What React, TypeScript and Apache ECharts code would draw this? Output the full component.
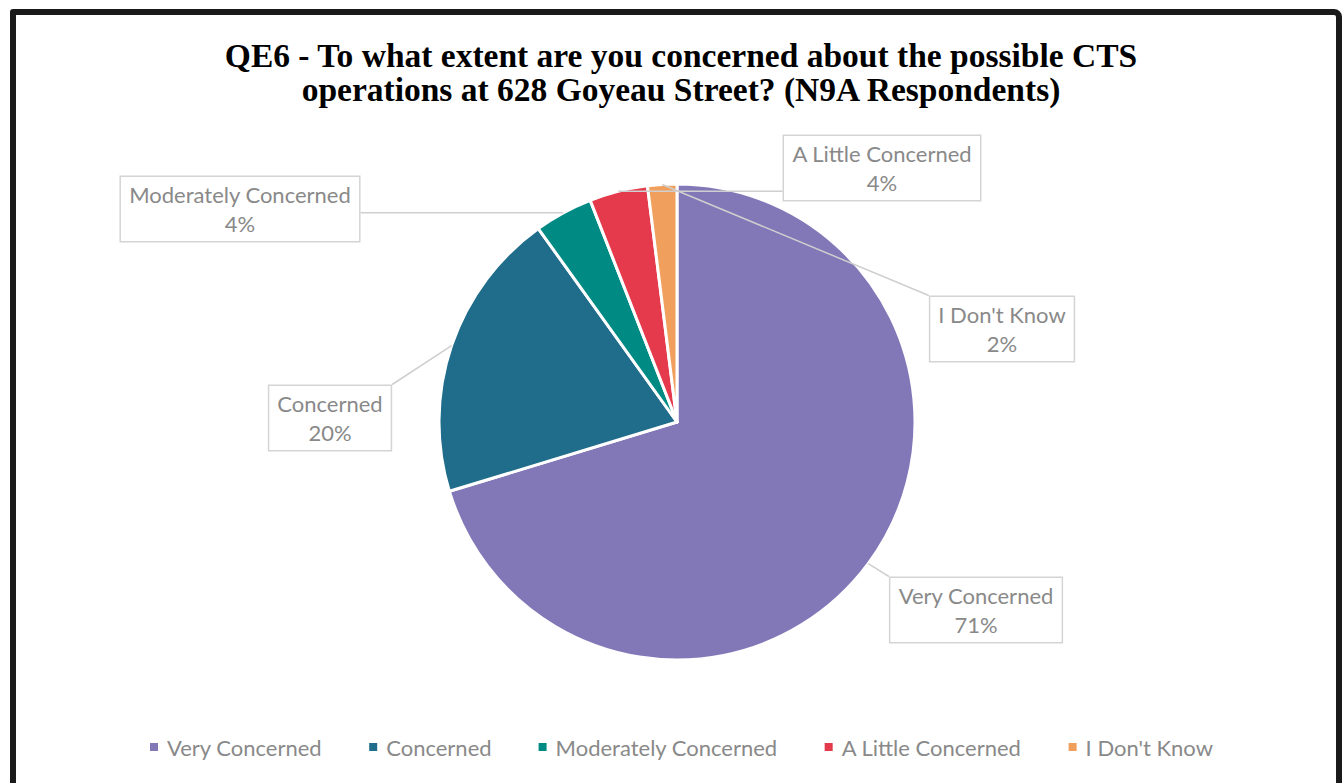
import React, { useEffect, useRef } from "react";
import * as echarts from "echarts";

const categories = ["Very Concerned", "Concerned", "Moderately Concerned", "A Little Concerned", "I Don't Know"];
const values = [71, 20, 4, 4, 2];
const colors = ["#8278b8", "#1f6c8b", "#008a84", "#e5394c", "#f0a05c"];
const titleLines = [
  "QE6 - To what extent are you concerned about the possible CTS",
  "operations at 628 Goyeau Street? (N9A Respondents)",
];
// label box centres (layout only)
const labelCentres = [
  [976, 610],
  [330, 418],
  [240, 209],
  [882, 168],
  [1002, 329],
];

export default function App() {
  const ref = useRef<HTMLDivElement>(null);
  useEffect(() => {
    if (!ref.current) return;
    const chart = echarts.init(ref.current, undefined, { renderer: "svg" });
    const labelFont = "Lato, 'Open Sans', sans-serif";
    const pieBase = {
      type: "pie",
      center: [677, 422],
      radius: 238,
      startAngle: 90,
      clockwise: true,
    };
    chart.setOption({
      animation: false,
      backgroundColor: "transparent",
      title: {
        text: titleLines.join("\n"),
        left: 676,
        top: 33,
        textAlign: "center",
        textStyle: {
          fontFamily: "'Liberation Serif', serif",
          fontWeight: "bold",
          fontSize: 33.5,
          lineHeight: 34,
          color: "#000",
        },
      },
      legend: {
        bottom: 20,
        left: 143,
        icon: "rect",
        itemWidth: 10,
        itemHeight: 10,
        itemGap: 45,
        data: categories,
        textStyle: { fontFamily: labelFont, fontSize: 22, color: "#898989", padding: [0, 0, 0, 3] },
      },
      series: [
        {
          ...pieBase,
          z: 2,
          itemStyle: { borderColor: "#fff", borderWidth: 3 },
          data: categories.map((c, i) => ({ name: c, value: values[i], itemStyle: { color: colors[i] } })),
          label: { show: false },
          labelLine: { show: false },
        },
        {
          ...pieBase,
          z: 5,
          silent: true,
          itemStyle: { color: "rgba(0,0,0,0)", borderWidth: 0 },
          data: categories.map((c, i) => ({ name: c, value: values[i] })),
          label: {
            show: true,
            formatter: (p: any) => `${p.name}\n${p.value}%`,
            fontFamily: labelFont,
            fontSize: 22,
            lineHeight: 29,
            color: "#898989",
            align: "center",
            backgroundColor: "#fff",
            borderColor: "#d4d4d4",
            borderWidth: 1.5,
            padding: [3, 8, 3, 8],
          },
          labelLine: { show: true, lineStyle: { color: "#cfcfcf", width: 1.5 } },
          labelLayout: (params: any) => {
            const c = labelCentres[params.dataIndex];
            const w = params.labelRect.width;
            const h = params.labelRect.height;
            const out: any = { x: c[0], y: c[1], align: "center", verticalAlign: "middle" };
            const pts = params.labelLinePoints;
            if (pts && pts.length) {
              const s = pts[0];
              const x0 = c[0] - w / 2, x1 = c[0] + w / 2, y0 = c[1] - h / 2, y1 = c[1] + h / 2;
              const ex = Math.min(Math.max(s[0], x0), x1);
              const ey = Math.min(Math.max(s[1], y0), y1);
              out.labelLinePoints = [[s[0], s[1]], [ex, ey]];
            }
            return out;
          },
        },
      ],
    });
    return () => chart.dispose();
  }, []);
  return (
    <div style={{ position: "fixed", left: 0, top: 0, width: 1343, height: 783, background: "#fff", overflow: "hidden" }}>
      <div
        style={{
          position: "absolute",
          left: 10,
          top: 9,
          width: 1332,
          height: 820,
          border: "6px solid #1a1a1a",
          borderTopRightRadius: 8,
          borderTopLeftRadius: 3,
          boxSizing: "border-box",
        }}
      />
      <div ref={ref} style={{ position: "absolute", left: 0, top: 0, width: 1343, height: 783 }} />
    </div>
  );
}
